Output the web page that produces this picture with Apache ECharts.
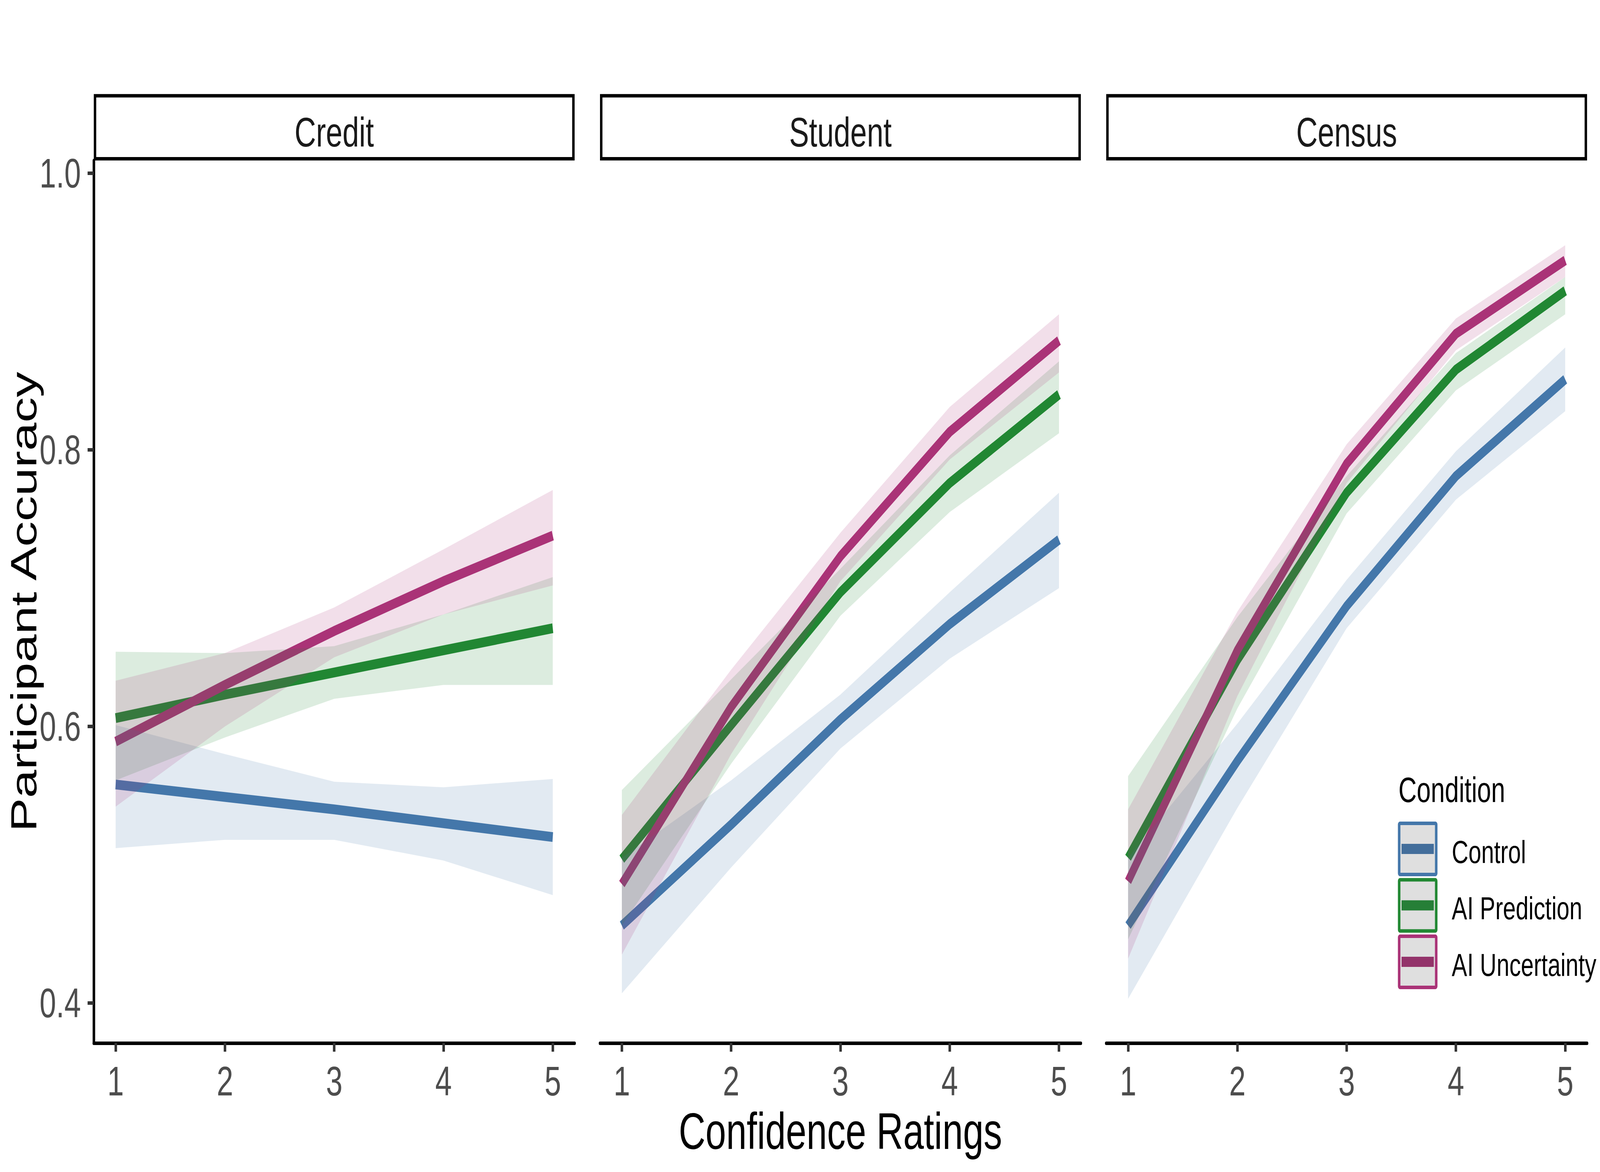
<!DOCTYPE html>
<html>
<head>
<meta charset="utf-8">
<script src="https://cdn.jsdelivr.net/npm/echarts@6/dist/echarts.min.js"></script>
<style>
html,body{margin:0;padding:0;background:#fff;overflow:hidden;}
#chart{position:absolute;left:0;top:0;width:5700px;height:3000px;transform-origin:0 0;}
</style>
</head>
<body>
<div id="chart"></div>
<script>
// ---------- data ----------
const confidence = [1, 2, 3, 4, 5];
const panels = ['Credit', 'Student', 'Census'];
const conditions = ['Control', 'AI Prediction', 'AI Uncertainty'];
const xTicks = [1, 2, 3, 4, 5];
const yTicks = [0.4, 0.6, 0.8, 1.0];

// Credit
const creditControl      = [0.558, 0.549, 0.540, 0.530, 0.520];
const creditControlLo    = [0.512, 0.518, 0.518, 0.503, 0.478];
const creditControlHi    = [0.601, 0.580, 0.560, 0.556, 0.562];
const creditPrediction   = [0.606, 0.623, 0.639, 0.655, 0.671];
const creditPredictionLo = [0.561, 0.592, 0.620, 0.630, 0.630];
const creditPredictionHi = [0.654, 0.653, 0.658, 0.681, 0.708];
const creditUncertainty  = [0.589, 0.630, 0.669, 0.705, 0.738];
const creditUncertaintyLo= [0.542, 0.600, 0.650, 0.681, 0.702];
const creditUncertaintyHi= [0.633, 0.653, 0.686, 0.728, 0.771];

// Student
const studentControl      = [0.456, 0.529, 0.605, 0.674, 0.735];
const studentControlLo    = [0.407, 0.498, 0.584, 0.649, 0.700];
const studentControlHi    = [0.505, 0.561, 0.623, 0.697, 0.769];
const studentPrediction   = [0.504, 0.601, 0.697, 0.776, 0.840];
const studentPredictionLo = [0.456, 0.573, 0.680, 0.755, 0.812];
const studentPredictionHi = [0.554, 0.634, 0.714, 0.796, 0.864];
const studentUncertainty  = [0.486, 0.614, 0.723, 0.813, 0.879];
const studentUncertaintyLo= [0.435, 0.580, 0.705, 0.793, 0.856];
const studentUncertaintyHi= [0.536, 0.641, 0.740, 0.831, 0.898];

// Census
const censusControl      = [0.456, 0.575, 0.687, 0.781, 0.851];
const censusControlLo    = [0.403, 0.541, 0.671, 0.764, 0.828];
const censusControlHi    = [0.505, 0.602, 0.706, 0.799, 0.874];
const censusPrediction   = [0.505, 0.648, 0.769, 0.858, 0.915];
const censusPredictionLo = [0.446, 0.613, 0.754, 0.843, 0.898];
const censusPredictionHi = [0.564, 0.679, 0.781, 0.870, 0.925];
const censusUncertainty  = [0.488, 0.655, 0.790, 0.884, 0.937];
const censusUncertaintyLo= [0.432, 0.622, 0.776, 0.872, 0.925];
const censusUncertaintyHi= [0.540, 0.683, 0.804, 0.895, 0.948];

// ---------- style ----------
const colors = ['#4477AA', '#228833', '#AA3377'];
const keyLineColors = ['#436E9B', '#267F37', '#93336A'];
const FONT = 'Liberation Sans, Arial, Helvetica, sans-serif';

const panelData = [
  [[creditControl, creditControlLo, creditControlHi],
   [creditPrediction, creditPredictionLo, creditPredictionHi],
   [creditUncertainty, creditUncertaintyLo, creditUncertaintyHi]],
  [[studentControl, studentControlLo, studentControlHi],
   [studentPrediction, studentPredictionLo, studentPredictionHi],
   [studentUncertainty, studentUncertaintyLo, studentUncertaintyHi]],
  [[censusControl, censusControlLo, censusControlHi],
   [censusPrediction, censusPredictionLo, censusPredictionHi],
   [censusUncertainty, censusUncertaintyLo, censusUncertaintyHi]]
];

// fit the 5700 x 3000 design to the actual viewport
const el = document.getElementById('chart');
const sx = (window.innerWidth || 5700) / 5700;
const sy = (window.innerHeight || 3000) / 3000;
el.style.transform = 'scale(' + sx + ',' + sy + ')';

// layout (px)
const gridLeft0 = 334.1, gridStep = 1803.4, gridW = 1713;
const gridTop = 411, gridBottomY = 2670;
const yMin = 0.371, yMax = 1.0092;

const grids = [], xAxes = [], yAxes = [], series = [], graphics = [];

function bandSeries(p, c, lo, hi) {
  return {
    type: 'custom', xAxisIndex: p, yAxisIndex: p, z: 3, silent: true,
    data: confidence.map((x, i) => [x, lo[i], hi[i]]),
    renderItem: function (params, api) {
      if (params.dataIndex !== 0) return null;
      const upper = confidence.map((x, i) => api.coord([x, hi[i]]));
      const lower = confidence.map((x, i) => api.coord([x, lo[i]])).reverse();
      return {
        type: 'polygon',
        shape: {points: upper.concat(lower)},
        style: {fill: colors[c], opacity: 0.155}
      };
    }
  };
}

panels.forEach((name, p) => {
  const left = gridLeft0 + p * gridStep;
  grids.push({left: left, top: gridTop, width: gridW, height: gridBottomY - gridTop, containLabel: false});
  xAxes.push({
    type: 'value', gridIndex: p, min: 0.8, max: 5.2,
    axisLine: {show: true, onZero: false, lineStyle: {color: '#000', width: 9}},
    axisTick: {show: true, length: 22, customValues: xTicks, lineStyle: {color: '#333333', width: 9}},
    axisLabel: {show: true, customValues: xTicks, margin: 44, fontSize: 106, color: '#4D4D4D', fontFamily: FONT},
    splitLine: {show: false}
  });
  yAxes.push({
    type: 'value', gridIndex: p, min: yMin, max: yMax,
    show: p === 0,
    axisLine: {show: p === 0, lineStyle: {color: '#000', width: 9}},
    axisTick: {show: p === 0, length: 22, customValues: yTicks, lineStyle: {color: '#333333', width: 9}},
    axisLabel: {show: p === 0, customValues: yTicks, margin: 46, fontSize: 106, color: '#4D4D4D', fontFamily: FONT,
      formatter: v => Number(v).toFixed(1)},
    splitLine: {show: false}
  });
  // strip
  graphics.push({
    type: 'rect', z: 10,
    shape: {x: left + 4.35, y: 245.1, width: gridW - 8.7, height: 161.2},
    style: {fill: '#FFFFFF', stroke: '#000000', lineWidth: 8.7}
  });
  graphics.push({
    type: 'text', z: 11,
    x: left + gridW / 2, y: 338,
    style: {text: name, fontSize: 106, fontFamily: FONT, fill: '#1A1A1A', align: 'center', verticalAlign: 'middle'}
  });

  panelData[p].forEach((arrs, c) => {
    const mean = arrs[0];
    series.push({
      type: 'line', name: conditions[c], xAxisIndex: p, yAxisIndex: p, z: 2,
      data: confidence.map((x, i) => [x, mean[i]]),
      symbol: 'none', showSymbol: false, silent: true,
      lineStyle: {color: colors[c], width: 25, cap: 'butt', join: 'round'}
    });
  });
  panelData[p].forEach((arrs, c) => {
    series.push(bandSeries(p, c, arrs[1], arrs[2]));
  });
});

// axis titles
graphics.push({
  type: 'text', x: (gridLeft0 + gridLeft0 + 2 * gridStep + gridW) / 2, y: 2895,
  style: {text: 'Confidence Ratings', fontSize: 132, fontFamily: FONT, fill: '#000', align: 'center', verticalAlign: 'middle'}
});
graphics.push({
  type: 'text', x: 84, y: (gridTop + gridBottomY) / 2, rotation: Math.PI / 2,
  style: {text: 'Participant Accuracy', fontSize: 130, fontFamily: FONT, fill: '#000', align: 'center', verticalAlign: 'middle'}
});

// legend
graphics.push({
  type: 'text', x: 4982, y: 2022,
  style: {text: 'Condition', fontSize: 90, fontFamily: FONT, fill: '#000', align: 'left', verticalAlign: 'middle'}
});
conditions.forEach((cond, c) => {
  const top = 2103 + c * 144.5;
  graphics.push({
    type: 'rect', shape: {x: 4984.5, y: top + 4.5, width: 132, height: 131, r: 3},
    style: {fill: '#DFDFDF', stroke: colors[c], lineWidth: 9}
  });
  graphics.push({
    type: 'line', shape: {x1: 4993, y1: top + 70, x2: 5108, y2: top + 70},
    style: {stroke: keyLineColors[c], lineWidth: 26, lineCap: 'butt'}
  });
  graphics.push({
    type: 'text', x: 5172, y: top + 77,
    style: {text: cond, fontSize: 82, fontFamily: FONT, fill: '#000', align: 'left', verticalAlign: 'middle'}
  });
});

const chart = echarts.init(el, null, {renderer: 'svg', width: 5700, height: 3000});
chart.setOption({
  backgroundColor: '#FFFFFF',
  animation: false,
  grid: grids,
  xAxis: xAxes,
  yAxis: yAxes,
  series: series,
  graphic: graphics
});
</script>
</body>
</html>
